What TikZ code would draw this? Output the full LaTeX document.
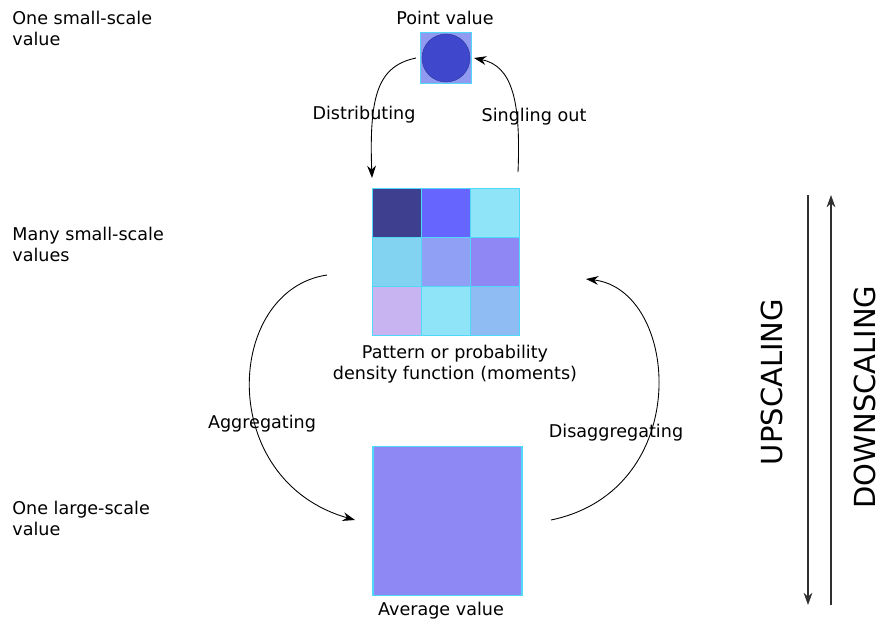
\documentclass[tikz,border=0pt]{standalone}
\usepackage{fontspec}
\setmainfont{DejaVu Sans}
\usetikzlibrary{arrows.meta}

\definecolor{cellborder}{HTML}{4FD8F8}
\definecolor{dotfill}{HTML}{3F48CC}
\definecolor{dotback}{HTML}{8F9AF0}
\definecolor{avgfill}{HTML}{8E88F4}
\definecolor{scaleline}{HTML}{303030}

\tikzset{
  lbl/.style={font=\fontsize{10}{12}\selectfont, align=center, inner sep=0pt},
  sidelbl/.style={lbl, align=left, anchor=west},
  biglbl/.style={font=\fontsize{16.5}{20}\selectfont, rotate=90, inner sep=0pt},
  cellbox/.style={draw=cellborder, line width=0.6pt, minimum size=0.985cm, inner sep=0pt},
  flow/.style={draw, line width=0.5pt, -{Stealth[length=7pt,width=5pt]}},
  scaleflow/.style={draw=scaleline, line width=0.6pt, -{Stealth[length=7pt,width=5pt]}}
}

\begin{document}
\begin{tikzpicture}[x=0.02cm, y=-0.02cm]
      \useasboundingbox (0,0) rectangle (882,627);
      % left side labels
      \node[sidelbl] at (12, 28)   (one) {One small-scale\\value};
      \node[sidelbl] at (12, 244)  (many) {Many small-scale\\values};
      \node[sidelbl] at (12, 518)  (large) {One large-scale\\value};
      % point value
      \node[cellbox, fill=dotback, minimum size=1.02cm] at (446, 58) (pt) {};
      \node[circle, fill=dotfill, draw=dotfill!80!black, line width=0.3pt, minimum size=0.96cm, inner sep=0pt] at (pt.center) (dot) {};
      \node[lbl] at (445, 18) (ptlbl) {Point value};
      % grid of small-scale values
      \foreach \col/\row/\clr in {0/0/3F3F8F, 1/0/6666FF, 2/0/90E4F8,
                                  0/1/82D2F2, 1/1/90A0F4, 2/1/8F88F4,
                                  0/2/C8B4F0, 1/2/90E4F8, 2/2/90BCF4}{
        \definecolor{cellfill}{HTML}{\clr}
        \node[cellbox, fill=cellfill] at (396.7+49.3*\col, 212.7+49.3*\row) (c\col\row) {};
      }
      \node[lbl] at (455, 364) (pdf) {Pattern or probability\\density function (moments)};
      % average value
      \node[cellbox, fill=avgfill, minimum size=2.98cm] at (447.5, 521) (avg) {};
      \node[lbl] at (441, 611) (avglbl) {Average value};
      % arrow labels
      \node[lbl] at (364, 115) (dist) {Distributing};
      \node[lbl] at (534, 117) (single) {Singling out};
      \node[lbl] at (262, 424) (aggr) {Aggregating};
      \node[lbl] at (616, 433) (disaggr) {Disaggregating};
      % free ends
      \coordinate (distS) at (416, 58);
      \coordinate (distE) at (372, 178);
      \coordinate (singS) at (518, 172);
      \coordinate (singE) at (474, 58);
      \coordinate (aggS) at (327, 275);
      \coordinate (aggE) at (355, 520);
      \coordinate (disS) at (551, 520);
      \coordinate (disE) at (586, 279);
      \path[flow] (distS) .. controls (378, 66) and (369, 95) .. (distE);
      \path[flow] (singS) .. controls (521, 100) and (512, 66) .. (singE);
      \path[flow] (aggS) .. controls (225, 290) and (215, 480) .. (aggE);
      \path[flow] (disS) .. controls (695, 490) and (680, 290) .. (disE);
      % up- and downscaling
      \coordinate (upT) at (808, 195);
      \coordinate (upB) at (808, 605);
      \coordinate (downB) at (831, 605);
      \coordinate (downT) at (831, 195);
      \path[scaleflow] (upT) -- (upB);
      \path[scaleflow] (downB) -- (downT);
      \node[biglbl] at (772, 382) (up) {UPSCALING};
      \node[biglbl] at (865, 397) (down) {DOWNSCALING};
    \end{tikzpicture}
\end{document}
